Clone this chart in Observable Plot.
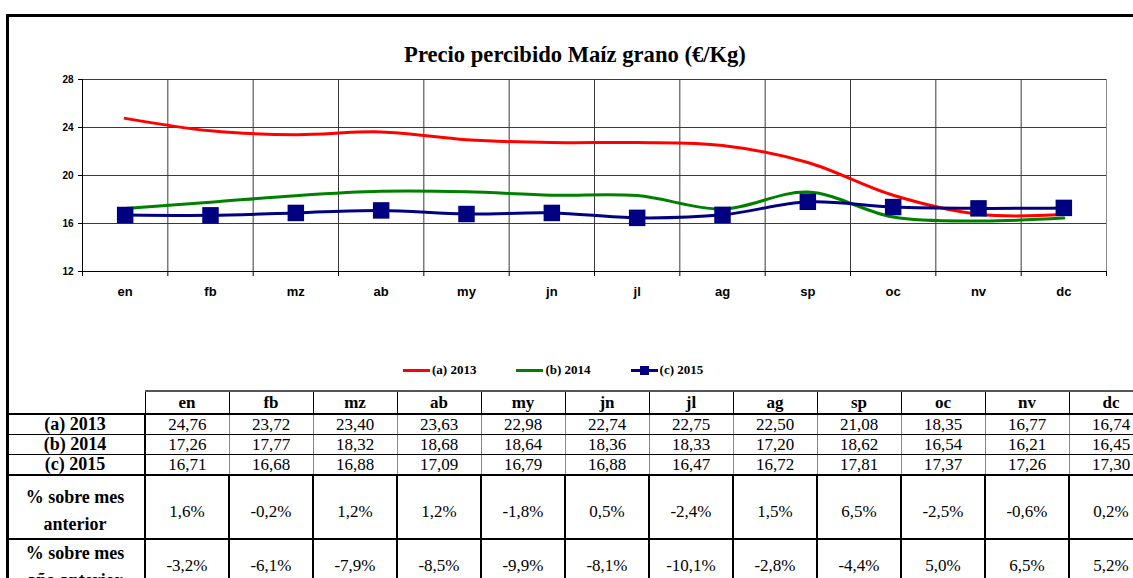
<!DOCTYPE html>
<html>
<head>
<meta charset="utf-8">
<script src="https://cdn.jsdelivr.net/npm/d3@7"></script>
<script src="https://cdn.jsdelivr.net/npm/@observablehq/plot@0.6"></script>
<style>
html, body { margin:0; padding:0; width:1133px; height:578px; overflow:hidden; background:#fff; position:relative; }
#frame { position:absolute; left:6px; top:14px; width:1300px; height:800px; border-top:3px solid #000; border-left:3px solid #000; box-sizing:border-box; }
#title { position:absolute; left:0; width:1150px; top:44px; text-align:center; font:bold 22.6px/22px "Liberation Serif", "Times New Roman", serif; color:#000; }
#chart { position:absolute; left:0; top:0; }
#legend { position:absolute; top:362px; left:403px; height:16px; display:flex; align-items:center; font:bold 13px/16px "Liberation Serif", serif; color:#000; }
#legend .item { display:flex; align-items:center; margin-right:40px; }
#legend .sw { position:relative; width:27px; height:3px; margin-right:2px; }
#legend .sq { position:absolute; left:9px; top:-3px; width:9px; height:9px; }
table { position:absolute; left:6px; top:390px; border-collapse:collapse; table-layout:fixed; width:1147px; font-family:"Liberation Serif", "Times New Roman", serif; color:#000; }
td { padding:0; text-align:center; font-size:17px; border:1px solid #000; white-space:nowrap; overflow:hidden; }
tr.hdr td { font-weight:bold; height:21px; line-height:21px; border-top:2px solid #555; border-bottom:2px solid #000; }
tr.hdr td.blank { border-top:none; border-left:none; }
tr.val td { height:19px; line-height:19px; border-left:1px solid #888; border-right:1px solid #888; }
tr.val td.lab { font-weight:bold; font-size:18px; border-left:none; }
tr.last td { border-bottom:2px solid #000; }
td.lab { border-right:2px solid #000 !important; }
tr.pct td { border:2px solid #000; vertical-align:top; }
tr.pct td.lab { white-space:pre-line; font-weight:bold; font-size:18px; line-height:27px; border-left:none; }
tr.p1 td.lab { padding-top:8px; }
tr.p1 td.num { padding-top:22px; line-height:27px; height:40px; }
tr.p2 td.lab { padding-top:0px; }
tr.p2 td.num { padding-top:12px; line-height:27px; }
</style>
</head>
<body>
<div id="frame"></div>
<div id="title"></div>
<div id="chart"></div>
<div id="legend"></div>
<script>
// ---- data ----
const months = ["en","fb","mz","ab","my","jn","jl","ag","sp","oc","nv","dc"];
const seriesNames = ["(a) 2013","(b) 2014","(c) 2015"];
const seriesColors = ["#FF0000","#008000","#000080"];
const values2013 = [24.76,23.72,23.40,23.63,22.98,22.74,22.75,22.50,21.08,18.35,16.77,16.74];
const values2014 = [17.26,17.77,18.32,18.68,18.64,18.36,18.33,17.20,18.62,16.54,16.21,16.45];
const values2015 = [16.71,16.68,16.88,17.09,16.79,16.88,16.47,16.72,17.81,17.37,17.26,17.30];
const pctMesAnterior = [1.6,-0.2,1.2,1.2,-1.8,0.5,-2.4,1.5,6.5,-2.5,-0.6,0.2];
const pctAnioAnterior = [-3.2,-6.1,-7.9,-8.5,-9.9,-8.1,-10.1,-2.8,-4.4,5.0,6.5,5.2];
const yTicks = [12,16,20,24,28];
const titleText = "Precio percibido Maíz grano (€/Kg)";
const pctLabels = ["% sobre mes\nanterior","% sobre mes\naño anterior"];

document.getElementById("title").textContent = titleText;

const allSeries = [values2013, values2014, values2015];
const data = [];
allSeries.forEach((vals, s) => vals.forEach((v, i) => data.push({i, month: months[i], v, s: seriesNames[s]})));
const data2015 = data.filter(d => d.s === seriesNames[2]);
const boundaries = d3.range(months.length + 1).map(k => k - 0.5);
const inner = boundaries.slice(1, -1);

const chart = Plot.plot({
  width: 1133,
  height: 310,
  marginLeft: 82,
  marginRight: 27,
  marginTop: 79,
  marginBottom: 39,
  style: {background: "transparent", fontFamily: "'Liberation Sans', Arial, sans-serif", overflow: "visible", color: "#000"},
  x: {type: "linear", domain: [-0.5, months.length - 0.5], label: null},
  y: {domain: [12, 28], label: null},
  color: {domain: seriesNames, range: seriesColors},
  marks: [
    Plot.gridY(yTicks.slice(1), {stroke: "#3a3a3a", strokeOpacity: 1, strokeWidth: 1}),
    Plot.gridX(inner, {stroke: "#3a3a3a", strokeOpacity: 1, strokeWidth: 1}),
    Plot.ruleX([months.length - 0.5], {stroke: "#8a8a8a", strokeWidth: 1}),
    Plot.ruleX([-0.5], {stroke: "#000", strokeWidth: 1}),
    Plot.ruleY([12], {stroke: "#000", strokeWidth: 1}),
    Plot.axisY(yTicks, {tickSize: 4, tickPadding: 5, fontSize: 10, fontWeight: "bold", label: null}),
    Plot.axisX(boundaries, {tickSize: 5, tickFormat: () => "", label: null}),
    Plot.axisX(d3.range(months.length), {tickSize: 0, tickPadding: 15, fontSize: 13, fontWeight: "bold", tickFormat: i => months[i], label: null}),
    Plot.line(data, {x: "i", y: "v", z: "s", stroke: "s", strokeWidth: 3, curve: "catmull-rom"}),
    Plot.dot(data2015, {x: "i", y: "v", symbol: "square", r: 9.3, fill: seriesColors[2], stroke: "none"})
  ]
});
document.getElementById("chart").appendChild(chart);

// legend
const legend = document.getElementById("legend");
seriesNames.forEach((name, k) => {
  const item = document.createElement("div");
  item.className = "item";
  const sw = document.createElement("div");
  sw.className = "sw";
  sw.style.background = seriesColors[k];
  if (k === 2) {
    const sq = document.createElement("div");
    sq.className = "sq";
    sq.style.background = seriesColors[k];
    sw.appendChild(sq);
  }
  const t = document.createElement("span");
  t.textContent = name;
  item.appendChild(sw);
  item.appendChild(t);
  legend.appendChild(item);
});

// table
const fmt2 = v => v.toFixed(2).replace(".", ",");
const fmtP = v => v.toFixed(1).replace(".", ",") + "%";
const table = document.createElement("table");
const cg = document.createElement("colgroup");
const c0 = document.createElement("col"); c0.style.width = "139px"; cg.appendChild(c0);
months.forEach(() => { const c = document.createElement("col"); c.style.width = "84px"; cg.appendChild(c); });
table.appendChild(cg);
function addRow(cls, label, cells, labCls) {
  const tr = document.createElement("tr");
  tr.className = cls;
  const td0 = document.createElement("td");
  td0.className = labCls;
  td0.textContent = label;
  tr.appendChild(td0);
  cells.forEach(c => { const td = document.createElement("td"); td.className = "num"; td.textContent = c; tr.appendChild(td); });
  table.appendChild(tr);
}
addRow("hdr", "", months, "blank");
addRow("val", seriesNames[0], values2013.map(fmt2), "lab");
addRow("val", seriesNames[1], values2014.map(fmt2), "lab");
addRow("val last", seriesNames[2], values2015.map(fmt2), "lab");
addRow("pct p1", pctLabels[0], pctMesAnterior.map(fmtP), "lab");
addRow("pct p2", pctLabels[1], pctAnioAnterior.map(fmtP), "lab");
document.body.appendChild(table);
</script>
</body>
</html>
